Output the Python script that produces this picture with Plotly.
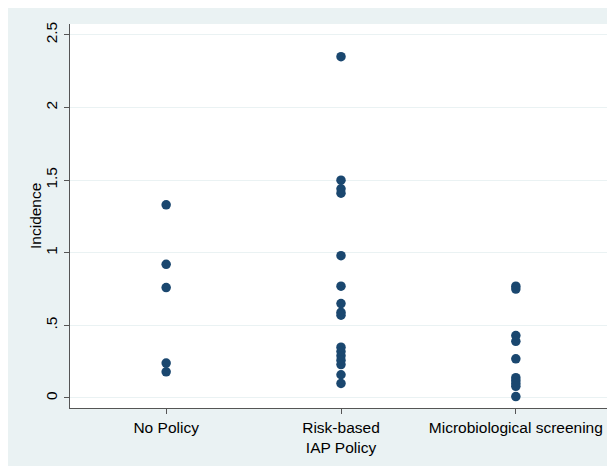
import plotly.graph_objects as go

categories = ["No Policy", "Risk-based<br>IAP Policy", "Microbiological screening"]
no_policy = [1.33, 0.92, 0.76, 0.24, 0.18]
risk_based = [2.35, 1.50, 1.44, 1.41, 0.98, 0.77, 0.65, 0.59, 0.57, 0.35, 0.32, 0.29, 0.26, 0.23, 0.16, 0.10]
micro = [0.77, 0.75, 0.43, 0.39, 0.27, 0.14, 0.12, 0.10, 0.08, 0.01]
y_ticks = [0, 0.5, 1, 1.5, 2, 2.5]
y_ticklabels = ["0", ".5", "1", "1.5", "2", "2.5"]

groups = [no_policy, risk_based, micro]
xs, ys = [], []
for i, vals in enumerate(groups):
    xs += [i + 1] * len(vals)
    ys += vals

fig = go.Figure(go.Scatter(
    x=xs, y=ys, mode="markers",
    marker=dict(size=9.5, color="#1a476f", line=dict(width=0)),
    hoverinfo="skip",
))

bg = "#eaf2f3"
fs = 15.5

fig.update_layout(
    width=607, height=458,
    margin=dict(l=62, r=3, t=16, b=58, pad=0),
    paper_bgcolor=bg,
    plot_bgcolor="white",
    showlegend=False,
    font=dict(family="Liberation Sans, Arial, sans-serif", size=fs, color="#000000"),
    xaxis=dict(
        range=[0.45, 3.55],
        tickvals=[1, 2, 3], ticktext=categories,
        showgrid=False, zeroline=False,
        showline=True, linecolor="#555555", linewidth=1,
        ticks="outside", ticklen=5, tickcolor="#555555",
        tickfont=dict(size=fs),
    ),
    yaxis=dict(
        range=[-0.069, 2.575],
        tickvals=y_ticks, ticktext=y_ticklabels,
        tickangle=-90,
        ticklabelstandoff=1,
        showgrid=True, gridcolor=bg, gridwidth=1,
        zeroline=False,
        showline=True, linecolor="#555555", linewidth=1,
        ticks="outside", ticklen=5, tickcolor="#555555",
        tickfont=dict(size=fs),
    ),
    annotations=[
        dict(text="Incidence", xref="paper", yref="paper",
             x=-0.0646, y=0.5, xanchor="center", yanchor="middle",
             textangle=-90, showarrow=False, font=dict(size=fs)),
    ],
)

fig.write_html("out.html")
